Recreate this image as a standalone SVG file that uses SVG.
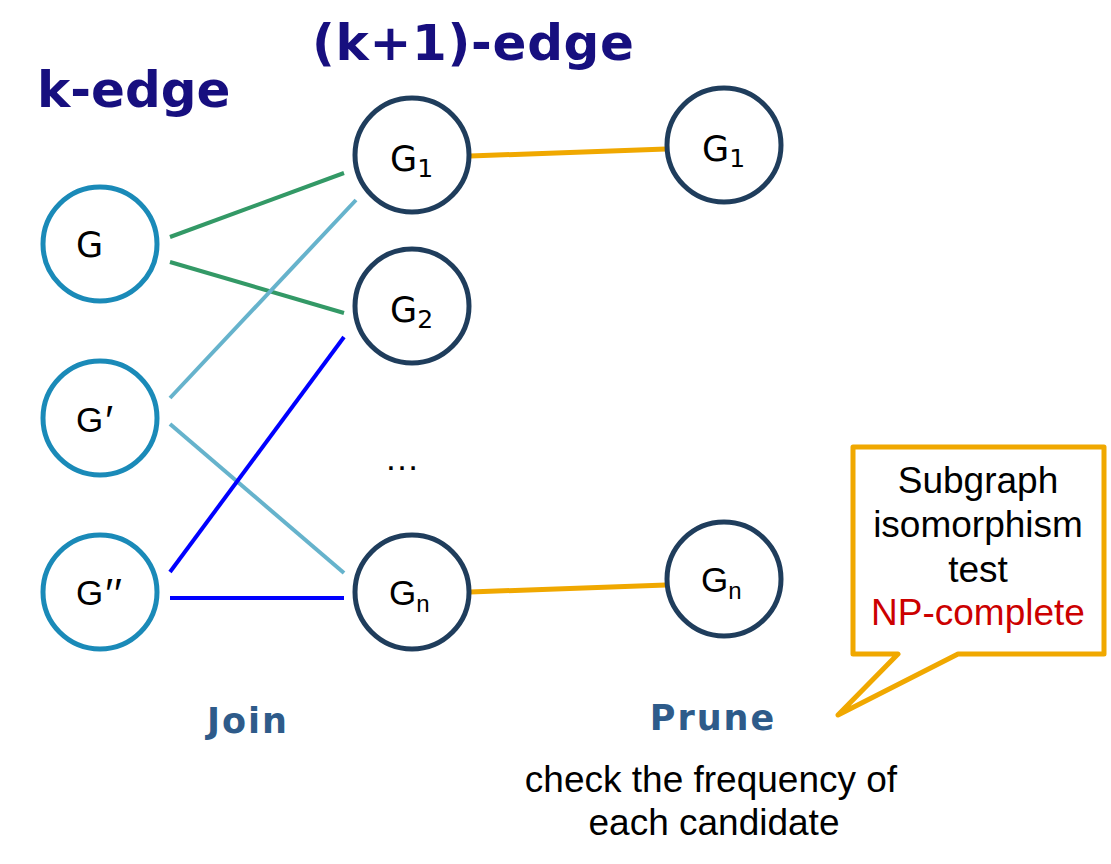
<svg xmlns="http://www.w3.org/2000/svg" width="1111" height="864" viewBox="0 0 1111 864">
<style>
.kcirc{fill:#fff;stroke:#1a8ab8;stroke-width:5}
.ncirc{fill:#fff;stroke:#1f3d5c;stroke-width:5}
.lbl{font-family:"DejaVu Sans",Verdana,sans-serif;font-size:35px;fill:#000}
.sub{font-size:25px}
.albl{font-family:"Liberation Sans",Arial,sans-serif;font-size:35px;fill:#000}
.asub{font-size:24px}
.pr{font-size:42px;letter-spacing:1px}
.head{font-family:"DejaVu Sans",Verdana,sans-serif;font-weight:bold;fill:#170f7f}
.step{font-family:"DejaVu Sans",Verdana,sans-serif;font-weight:bold;font-size:35px;fill:#2e5b8a;letter-spacing:2px}
.body{font-family:"Liberation Sans",Arial,sans-serif;font-size:37px;fill:#000}
.red{fill:#cc0000}
.ln{stroke-width:4;fill:none}
</style>
<rect width="1111" height="864" fill="#fff"/>
<text class="head" x="37" y="107" font-size="50">k-edge</text>
<text class="head" x="312" y="60" font-size="50" textLength="322">(k+1)-edge</text>
<g id="connectors">
<line class="ln" stroke="#339966" x1="170" y1="237" x2="344" y2="173"/>
<line class="ln" stroke="#339966" x1="170" y1="262" x2="344" y2="313"/>
<line class="ln" stroke="#66b3cc" x1="170" y1="398" x2="356" y2="200"/>
<line class="ln" stroke="#66b3cc" x1="170" y1="424" x2="344" y2="573"/>
<line class="ln" stroke="#0000ff" x1="170" y1="572" x2="344" y2="337"/>
<line class="ln" stroke="#0000ff" x1="170" y1="598" x2="344" y2="598"/>
<line stroke="#f0a800" stroke-width="5" x1="470" y1="156" x2="666" y2="149"/>
<line stroke="#f0a800" stroke-width="5" x1="470" y1="592" x2="666" y2="585"/>
</g>
<g id="node-G"><circle class="kcirc" cx="100" cy="244" r="57"/><text class="lbl" x="76" y="257">G</text></g>
<g id="node-Gp"><circle class="kcirc" cx="100" cy="418" r="57"/><text class="albl" x="76" y="432">G<tspan class="pr" dx="2" dy="3">′</tspan></text></g>
<g id="node-Gpp"><circle class="kcirc" cx="100" cy="592" r="57"/><text class="albl" x="76" y="605">G<tspan class="pr" dx="2" dy="3">′′</tspan></text></g>
<g id="node-G1"><circle class="ncirc" cx="412" cy="155" r="57"/><text class="lbl" x="390" y="171">G<tspan class="sub" dy="6">1</tspan></text></g>
<g id="node-G2"><circle class="ncirc" cx="412" cy="306" r="57"/><text class="lbl" x="390" y="322">G<tspan class="sub" dy="6">2</tspan></text></g>
<text class="albl" x="402" y="470" text-anchor="middle">…</text>
<g id="node-Gn"><circle class="ncirc" cx="412" cy="592" r="57"/><text class="albl" x="389" y="605">G<tspan class="asub" dy="7">n</tspan></text></g>
<g id="node-G1p"><circle class="ncirc" cx="724" cy="145" r="57"/><text class="lbl" x="702" y="161">G<tspan class="sub" dy="6">1</tspan></text></g>
<g id="node-Gnp"><circle class="ncirc" cx="724" cy="579" r="57"/><text class="albl" x="701" y="592">G<tspan class="asub" dy="7">n</tspan></text></g>
<g id="callout">
<path d="M853,447 L1104,447 L1104,654 L958,654 L838,715 L898,654 L853,654 Z" fill="#fff" stroke="#f0a800" stroke-width="5" stroke-linejoin="round"/>
<text class="body" text-anchor="middle" x="978" y="493">Subgraph</text>
<text class="body" text-anchor="middle" x="978" y="537">isomorphism</text>
<text class="body" text-anchor="middle" x="978" y="582">test</text>
<text class="body red" text-anchor="middle" x="978" y="625">NP-complete</text>
</g>
<text class="step" x="248" y="733" text-anchor="middle">Join</text>
<text class="step" x="713" y="730" text-anchor="middle">Prune</text>
<text class="body" x="711" y="792" text-anchor="middle">check the frequency of</text>
<text class="body" x="714" y="835" text-anchor="middle">each candidate</text>
</svg>
